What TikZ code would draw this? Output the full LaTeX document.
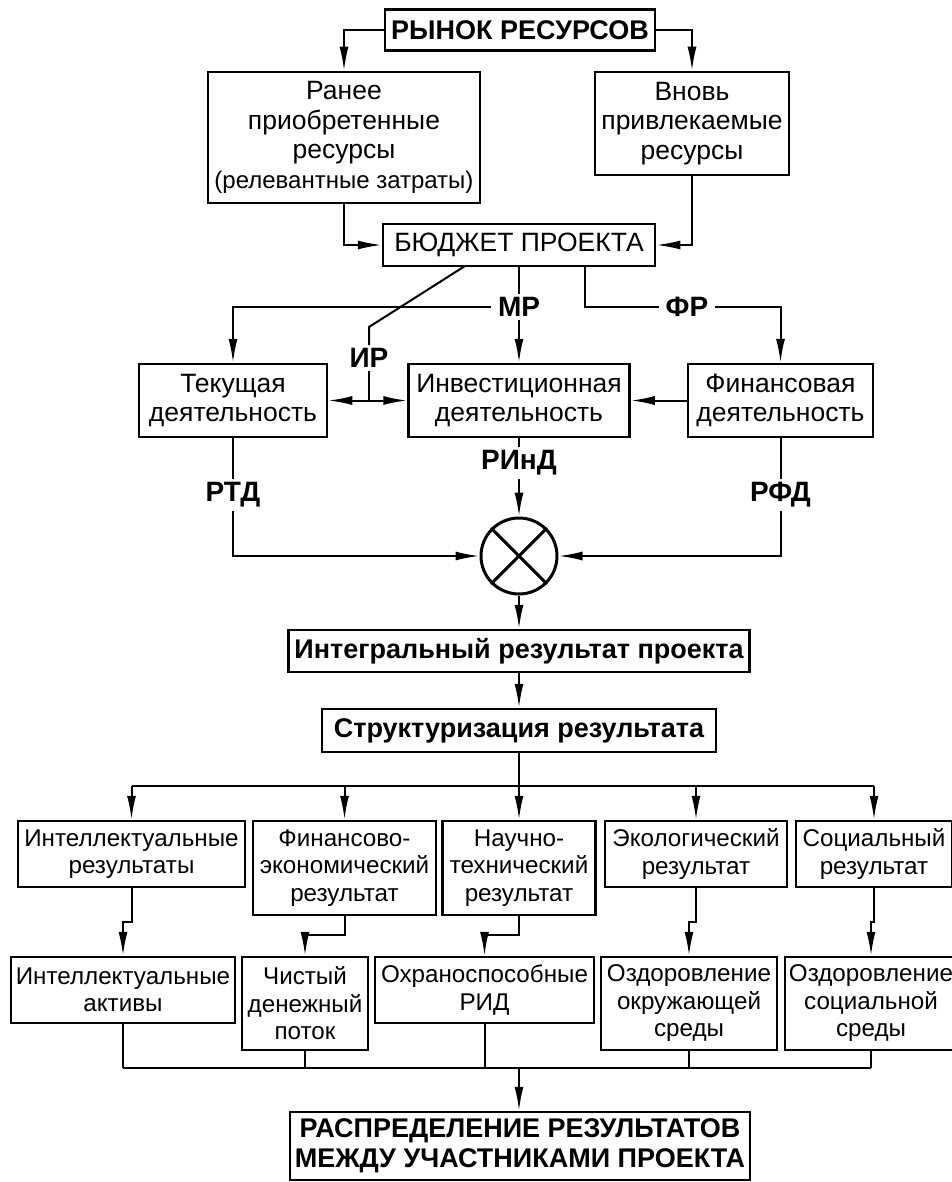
\documentclass[tikz,border=0pt]{standalone}
\usepackage{fontspec}
\setmainfont{Liberation Sans}
\usetikzlibrary{arrows.meta}
\begin{document}
\begin{tikzpicture}[x=1pt,y=-1pt,
  box/.style={draw,line width=2.5pt,inner sep=0pt,align=center,font=\fontsize{26.5}{29.5}\selectfont},
  bbox/.style={box,font=\bfseries\fontsize{27}{30}\selectfont},
  rbox/.style={box,font=\fontsize{24.2}{27.5}\selectfont},
  lbl/.style={inner xsep=7pt,inner ysep=3pt,font=\bfseries\fontsize{28}{30}\selectfont},
  ln/.style={line width=2pt},
  arr/.style={ln,-{Latex[length=24pt,width=9pt]}},
  darr/.style={ln,{Latex[length=24pt,width=9pt]}-{Latex[length=24pt,width=9pt]}}
]
\useasboundingbox (0,0) rectangle (952,1182);

% top part
\node[bbox,minimum width=270,minimum height=41] (market) at (520,30) {РЫНОК РЕСУРСОВ};
\node[box,minimum width=272,minimum height=131] (ranee) at (344,137.5) {Ранее\\приобретенные\\ресурсы\\{\fontsize{24}{29.5}\selectfont(релевантные затраты)}};
\node[box,minimum width=194,minimum height=103] (vnov) at (692,123.5) {Вновь\\привлекаемые\\ресурсы};
\node[box,minimum width=272,minimum height=42] (budget) at (519,245) {БЮДЖЕТ ПРОЕКТА};

\draw[arr] (market.west) -| (ranee.north);
\draw[arr] (market.east) -| (vnov.north);
\draw[arr] (ranee.south) |- (budget.west);
\draw[arr] (vnov.south) |- (budget.east);

% activities
\node[box,minimum width=188,minimum height=73] (tek) at (233,400.5) {Текущая\\деятельность};
\node[box,minimum width=221,minimum height=73] (inv) at (519,400.5) {Инвестиционная\\деятельность};
\node[box,minimum width=185,minimum height=73] (fin) at (780.5,400.5) {Финансовая\\деятельность};

\node[lbl] (mr) at (519,307) {МР};
\node[lbl] (fr) at (687,307) {ФР};
\node[lbl] (ir) at (369,358) {ИР};
\node[lbl] (rind) at (519,463) {РИнД};
\node[lbl] (rtd) at (233,495) {РТД};
\node[lbl] (rfd) at (780.5,495) {РФД};

\coordinate (fb) at (585,266);
\coordinate (ib) at (465,266);
\coordinate (ik) at (369,327);

\draw[ln] (budget.south) -- (mr.north);
\draw[arr] (mr.west) -| (tek.north);
\draw[arr] (mr.south) -- (inv.north);
\draw[ln] (fb) |- (fr.west);
\draw[arr] (fr.east) -| (fin.north);
\draw[ln] (ib) -- (ik) -- (ir.north);
\draw[ln] (ir.south) -- (ir.south |- tek.east);
\draw[darr] (tek.east) -- (inv.west);
\draw[arr] (fin.west) -- (inv.east);

% summation
\node[draw,circle,line width=3pt,minimum size=76,inner sep=0pt] (circ) at (519,556) {};
\draw[line width=3pt] (circ.135) -- (circ.-45);
\draw[line width=3pt] (circ.45) -- (circ.-135);

\draw[ln] (inv.south) -- (rind.north);
\draw[arr] (rind.south) -- (circ.north);
\draw[ln] (tek.south) -- (rtd.north);
\draw[arr] (rtd.south) |- (circ.west);
\draw[ln] (fin.south) -- (rfd.north);
\draw[arr] (rfd.south) |- (circ.east);

% integral result
\node[bbox,minimum width=461,minimum height=42] (integ) at (519,651) {Интегральный результат проекта};
\node[bbox,minimum width=394,minimum height=43] (struct) at (519,730.5) {Структуризация результата};
\draw[arr] (circ.south) -- (integ.north);
\draw[arr] (integ.south) -- (struct.north);

% row 1
\node[rbox,minimum width=227,minimum height=66] (b1) at (131.5,854) {Интеллектуальные\\результаты};
\node[rbox,minimum width=183,minimum height=94] (b2) at (344.5,868) {Финансово-\\экономический\\результат};
\node[rbox,minimum width=153,minimum height=94] (b3) at (519,868) {Научно-\\технический\\результат};
\node[rbox,minimum width=182,minimum height=66] (b4) at (696,854) {Экологический\\результат};
\node[rbox,minimum width=156,minimum height=66] (b5) at (874,854) {Социальный\\результат};

\coordinate (bus) at (519,786);
\draw[ln] (struct.south) -- (bus);
\draw[ln] (b1.north |- bus) -- (b5.north |- bus);
\foreach \b in {b1,b2,b3,b4,b5} \draw[arr] (\b.north |- bus) -- (\b.north);

% row 2
\node[rbox,minimum width=224,minimum height=66] (c1) at (123,990) {Интеллектуальные\\активы};
\node[rbox,minimum width=126,minimum height=93] (c2) at (305,1003.5) {Чистый\\денежный\\поток};
\node[rbox,minimum width=219,minimum height=66] (c3) at (484.5,990) {Охраноспособные\\РИД};
\node[rbox,minimum width=176,minimum height=93] (c4) at (689,1003.5) {Оздоровление\\окружающей\\среды};
\node[rbox,minimum width=172,minimum height=93] (c5) at (871,1003.5) {Оздоровление\\социальной\\среды};

\draw[arr] (b1.south) -- (b1.south |- 0,922) -| (c1.north);
\draw[arr] (b2.south) -- (b2.south |- 0,935) -| (c2.north);
\draw[arr] (b3.south) -- (b3.south |- 0,935) -| (c3.north);
\draw[arr] (b4.south) -- (b4.south |- 0,922) -| (c4.north);
\draw[arr] (b5.south) -- (b5.south |- 0,922) -| (c5.north);

% final
\node[bbox,minimum width=460,minimum height=68] (final) at (520,1146) {РАСПРЕДЕЛЕНИЕ РЕЗУЛЬТАТОВ\\МЕЖДУ УЧАСТНИКАМИ ПРОЕКТА};
\coordinate (bot) at (519,1068);
\draw[ln] (c1.south |- bot) -- (c5.south |- bot);
\foreach \c in {c1,c2,c3,c4,c5} \draw[ln] (\c.south) -- (\c.south |- bot);
\draw[arr] (bot) -- (bot |- final.north);
\end{tikzpicture}
\end{document}
